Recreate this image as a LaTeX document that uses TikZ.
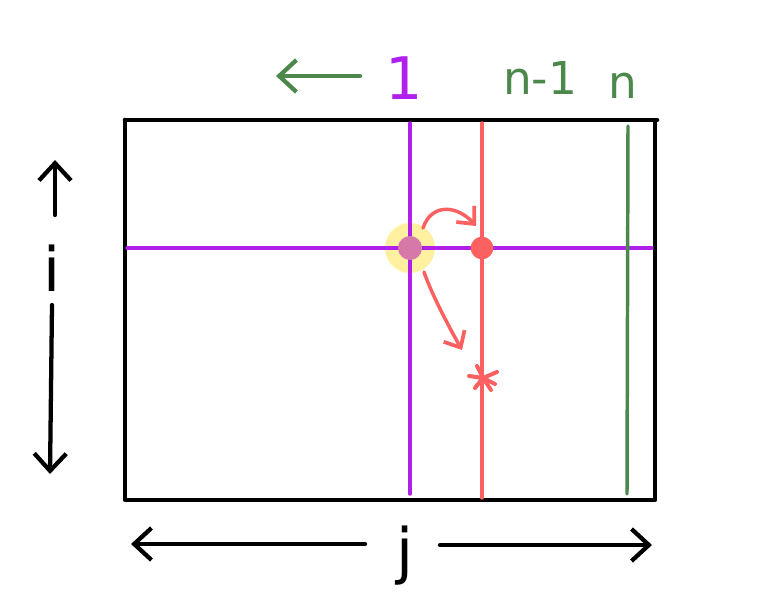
\documentclass[tikz,border=0pt]{standalone}
\usepackage{fontspec}
\setsansfont{DejaVu Sans}
\usetikzlibrary{arrows.meta}
\definecolor{pur}{RGB}{176,32,236}
\definecolor{rd}{RGB}{252,96,96}
\definecolor{grn}{RGB}{76,136,76}
\definecolor{ylw}{RGB}{255,240,150}
\definecolor{pnk}{RGB}{214,120,170}
\begin{document}
\begin{tikzpicture}[x=0.75pt,y=-0.75pt,line cap=round,line join=round,
  frame/.style={line width=3.4pt,black},
  pline/.style={line width=2.6pt,pur},
  rline/.style={line width=2.6pt,rd},
  gline/.style={line width=2.6pt,grn},
  harrow/.style={line width=3.2pt,-{Straight Barb[length=13pt,width=24pt,line width=3.2pt]}},
  rarrow/.style={rline,-{Straight Barb[length=10pt,width=18pt,line width=2.8pt]}},
  lbl/.style={font=\sffamily\fontsize{34}{38}\selectfont,inner sep=0pt}]
\useasboundingbox (0,0) rectangle (772,610);
% frame corners
\coordinate (tl) at (125,120); \coordinate (tr) at (657,120);
\coordinate (bl) at (125,500); \coordinate (br) at (655,500);
\coordinate (rt) at (655,122);
\draw[frame] (tl) -- (tr);
\draw[frame] (tl) -- (bl) -- (br) -- (rt);
% interior lines
\coordinate (pt) at (410,123); \coordinate (pb) at (410,494);
\coordinate (pl) at (127,248); \coordinate (pr) at (652,248);
\coordinate (rtp) at (482,123); \coordinate (rbt) at (482,498);
\coordinate (gt) at (628,126); \coordinate (gb) at (627,494);
\fill[ylw,opacity=0.9] (410,248) circle (25);
\draw[pline] (pt) -- (pb);
\draw[pline] (pl) -- (pr);
\draw[rline] (rtp) -- (rbt);
\draw[gline] (gt) -- (gb);
% dots
\node[circle,fill=pnk,minimum size=18,inner sep=0pt] (cur) at (410,248) {};
\node[circle,fill=rd,minimum size=17,inner sep=0pt] (nxt) at (482,248) {};
\coordinate (star) at (483,378);
\draw[rline,line width=3pt] (star) -- ++(-14,-2) (star) -- ++(14,-6) (star) -- ++(-6,-12)
  (star) -- ++(8,12) (star) -- ++(-8,10) (star) -- ++(12,6);
\coordinate (a1s) at (423,228); \coordinate (a1e) at (476,226);
\coordinate (a2s) at (424,272); \coordinate (a2e) at (462,350);
\draw[rarrow] (a1s) .. controls (432,202) and (458,206) .. (a1e);
\draw[rarrow] (a2s) .. controls (432,295) and (448,325) .. (a2e);
% top labels
\coordinate (ga1) at (360,76); \coordinate (ga2) at (276,76);
\draw[harrow,grn] (ga1) -- (ga2);
\node[lbl,pur,font=\sffamily\fontsize{44}{44}\selectfont] (one) at (404,78) {1};
\node[lbl,grn] (nm1) at (540,78) {n-1};
\node[lbl,grn] (n) at (623,86) {n};
% left
\coordinate (u1) at (55,215); \coordinate (u2) at (55,160);
\draw[harrow] (u1) -- (u2);
\node[lbl,font=\sffamily\fontsize{46}{46}\selectfont] (i) at (52,268) {i};
\coordinate (d1) at (52,305); \coordinate (d2) at (50,474);
\draw[harrow] (d1) -- (d2);
% bottom
\coordinate (l1) at (365,544); \coordinate (l2) at (131,544);
\draw[harrow] (l1) -- (l2);
\node[lbl,font=\sffamily\fontsize{46}{46}\selectfont] (j) at (405,556) {j};
\coordinate (r1) at (440,545); \coordinate (r2) at (652,545);
\draw[harrow] (r1) -- (r2);
\end{tikzpicture}
\end{document}
